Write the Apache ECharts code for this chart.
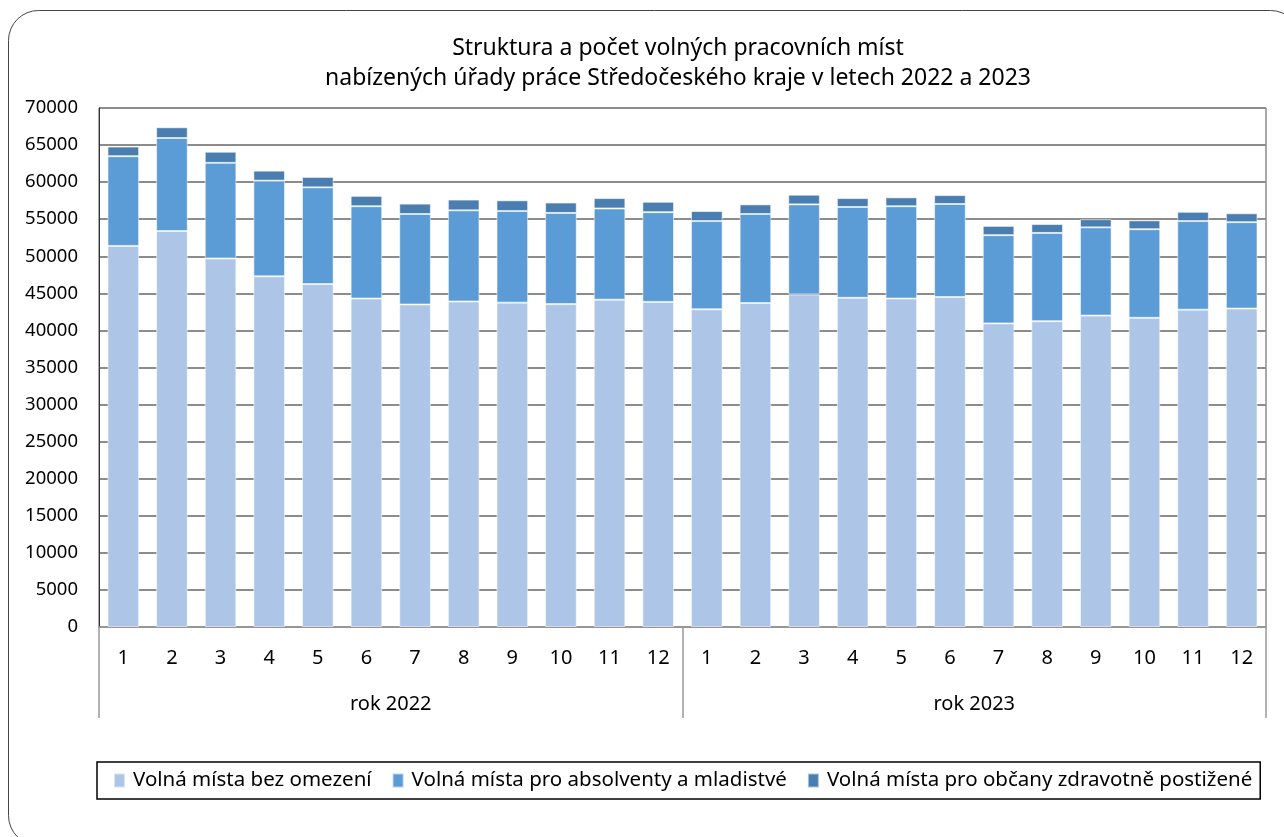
<!DOCTYPE html>
<html>
<head>
<meta charset="utf-8">
<script src="https://cdn.jsdelivr.net/npm/echarts@6/dist/echarts.min.js"></script>
<style>
  html, body { margin: 0; padding: 0; background: #fff; }
  #chart { width: 1284px; height: 837px; }
</style>
</head>
<body>
<div id="chart"></div>
<script>
// měsíce a roky
var months = ['1','2','3','4','5','6','7','8','9','10','11','12',
              '1','2','3','4','5','6','7','8','9','10','11','12'];
var years = ['rok 2022', 'rok 2023'];

// volná místa bez omezení
var bezOmezeni = [51400, 53400, 49700, 47300, 46250, 44300, 43500, 43900, 43750, 43550, 44150, 43850,
                  42850, 43700, 44850, 44400, 44300, 44500, 40950, 41250, 42000, 41700, 42800, 42950];
// volná místa pro absolventy a mladistvé
var absolventi = [12100, 12550, 12900, 12900, 13050, 12450, 12200, 12300, 12350, 12300, 12300, 12100,
                  11900, 12000, 12150, 12250, 12450, 12550, 11900, 11900, 11900, 11950, 11950, 11650];
// volná místa pro občany zdravotně postižené
var postizeni = [1300, 1450, 1500, 1350, 1400, 1400, 1400, 1450, 1450, 1400, 1400, 1400,
                 1350, 1300, 1300, 1200, 1200, 1200, 1250, 1200, 1100, 1200, 1250, 1200];

var FONT = 'Noto Sans';
var chart = echarts.init(document.getElementById('chart'));

function barSerie(name, data, color){
    return {
        name: name,
        type: 'bar',
        stack: 'celkem',
        data: data,
        barWidth: '65%',
        itemStyle: {
            color: color,
            borderColor: 'rgba(255,255,255,0.55)',
            borderWidth: 1
        }
    };
}

option = {
    animation: false,
    textStyle: { fontFamily: FONT },
    title: {
        text: 'Struktura a počet volných pracovních míst\nnabízených úřady práce Středočeského kraje v letech 2022 a 2023',
        left: 673,
        textAlign: 'center',
        top: 28,
        textStyle: { fontFamily: FONT, fontSize: 23, fontWeight: 'normal', color: '#000', lineHeight: 30 }
    },
    graphic: [{
        type: 'rect',
        shape: { x: 8.5, y: 10.5, width: 1292, height: 835, r: 30 },
        style: { fill: 'none', stroke: '#444', lineWidth: 1 },
        silent: true,
        z: -10
    }],
    legend: {
        left: 97,
        top: 762,
        itemWidth: 11,
        itemHeight: 14,
        itemGap: 20,
        padding: [8, 8, 8, 16],
        borderColor: '#000',
        borderWidth: 1.5,
        icon: 'rect',
        textStyle: { fontFamily: FONT, fontSize: 20.5, color: '#000', padding: [0, 0, 0, 3] },
        data: ['Volná místa bez omezení', 'Volná místa pro absolventy a mladistvé', 'Volná místa pro občany zdravotně postižené']
    },
    grid: {
        left: 99,
        right: 18,
        top: 108,
        bottom: 210,
        show: true,
        borderColor: '#555',
        borderWidth: 1
    },
    xAxis: [{
        type: 'category',
        data: months,
        axisLine: { lineStyle: { color: '#999', width: 1.5 } },
        axisTick: { show: false },
        axisLabel: { color: '#000', fontSize: 20, margin: 21, fontFamily: FONT }
    }, {
        type: 'category',
        data: years,
        position: 'bottom',
        axisLine: { show: false },
        axisTick: { show: true, length: 91, interval: 0, lineStyle: { color: '#999', width: 1.5 } },
        axisLabel: { color: '#000', fontSize: 20, margin: 67, fontFamily: FONT }
    }],
    yAxis: {
        type: 'value',
        min: 0,
        max: 70000,
        interval: 5000,
        axisLine: { show: true, lineStyle: { color: '#333', width: 1 } },
        axisTick: { show: false },
        axisLabel: { color: '#000', fontSize: 18.5, margin: 21, fontFamily: FONT,
                     formatter: function (v) { return String(v); } },
        splitLine: { lineStyle: { color: '#8c8c8c', width: 2 } }
    },
    series: [
        barSerie('Volná místa bez omezení', bezOmezeni, '#adc5e6'),
        barSerie('Volná místa pro absolventy a mladistvé', absolventi, '#5b9bd6'),
        barSerie('Volná místa pro občany zdravotně postižené', postizeni, '#4a7eb0')
    ]
};
chart.setOption(option);
</script>
</body>
</html>
